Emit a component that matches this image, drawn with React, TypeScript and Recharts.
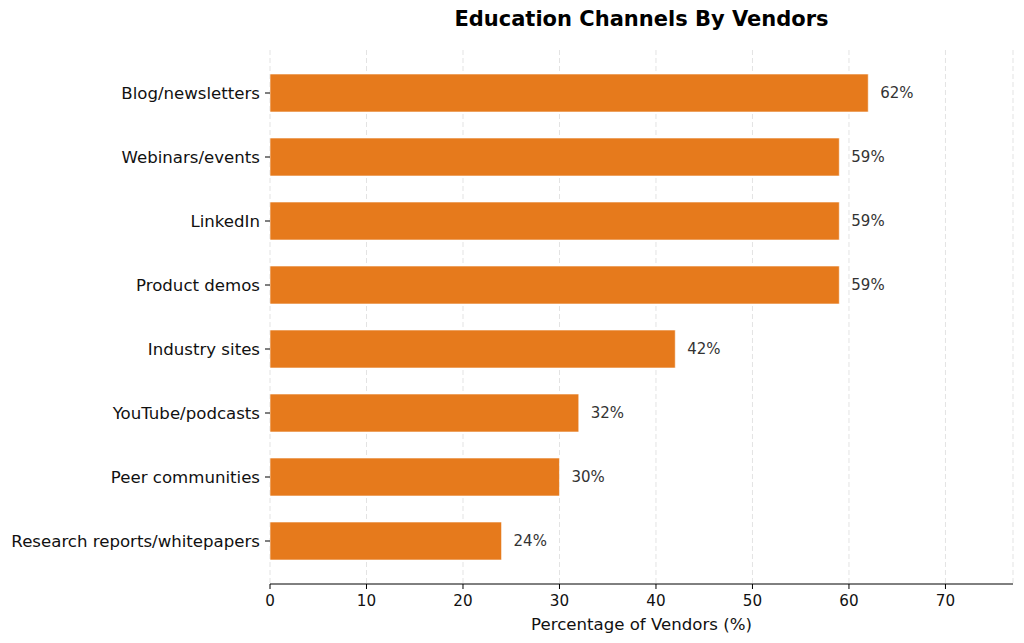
import React from 'react';
import { BarChart, Bar, XAxis, YAxis, CartesianGrid, LabelList } from 'recharts';

// Channels from top to bottom as shown in the chart
const channels = [
  'Blog/newsletters',
  'Webinars/events',
  'LinkedIn',
  'Product demos',
  'Industry sites',
  'YouTube/podcasts',
  'Peer communities',
  'Research reports/whitepapers',
];

const percentages = [62, 59, 59, 59, 42, 32, 30, 24];

const xTicks = [0, 10, 20, 30, 40, 50, 60, 70];

const data = channels.map((name, i) => ({ name, value: percentages[i] }));

const FONT = '"DejaVu Sans", sans-serif';

const App: React.FC = () => {
  return (
    <div style={{ position: 'absolute', left: 0, top: 0, width: 1024, height: 643, background: '#fff', fontFamily: FONT }}>
      <div
        style={{
          position: 'absolute',
          left: 270,
          width: 743,
          top: 7,
          textAlign: 'center',
          fontSize: 21,
          fontWeight: 'bold',
          color: '#000',
        }}
      >
        Education Channels By Vendors
      </div>
      <BarChart
        width={1024}
        height={643}
        data={data}
        layout="vertical"
        margin={{ top: 50, right: 11, bottom: 0, left: 0 }}
        style={{ fontFamily: FONT }}
      >
        <CartesianGrid horizontal={false} strokeDasharray="5 3" stroke="#e3e3e3" />
        <XAxis
          type="number"
          domain={[0, 77]}
          ticks={xTicks}
          allowDataOverflow
          height={59}
          tickSize={5}
          tickMargin={6}
          tick={{ fill: '#111', fontSize: 15.2 }}
          axisLine={{ stroke: '#000', strokeWidth: 1 }}
          tickLine={{ stroke: '#000' }}
          label={{ value: 'Percentage of Vendors (%)', position: 'insideBottom', offset: 13, fill: '#111', fontSize: 16.6 }}
        />
        <YAxis
          type="category"
          dataKey="name"
          width={270}
          padding={{ top: 11, bottom: 11 }}
          axisLine={false}
          tickSize={5}
          tickMargin={5}
          tick={{ fill: '#111', fontSize: 16.6 }}
          tickLine={{ stroke: '#000' }}
        />
        <Bar dataKey="value" fill="#E67A1C" stroke="#fff" strokeWidth={0.6} barSize={38} isAnimationActive={false}>
          <LabelList
            dataKey="value"
            position="right"
            offset={12}
            formatter={(v: number) => `${v}%`}
            fill="#333"
            fontSize={15}
            fontFamily={FONT}
          />
        </Bar>
      </BarChart>
    </div>
  );
};

export default App;
